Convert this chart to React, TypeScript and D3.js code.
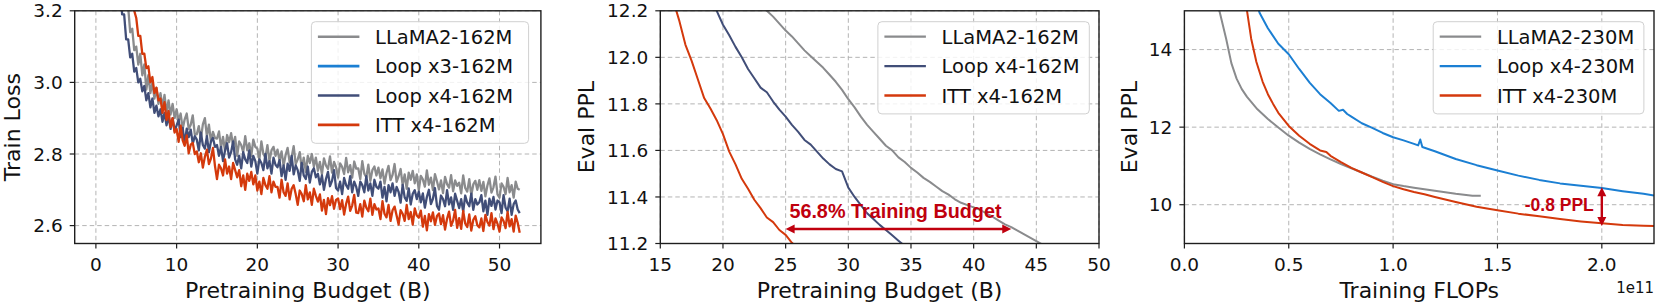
import React from "react";
import * as d3 from "d3";

const W = 1660;
const H = 307;
const TOP = 10.8;
const BOTTOM = 243.5;

const GRAY = "#8a8b8d";
const BLUE = "#1b7fd3";
const NAVY = "#414e78";
const RED = "#d4390c";
const MARK = "#c0000e";
const FONT = "'DejaVu Sans', Verdana, sans-serif";
const BOLD = "'Liberation Sans', Arial, sans-serif";

// ---- panel 1: train loss vs pretraining budget (B), sampled every 0.25B ----
const trainBudget = d3.range(2.5, 52.51, 0.25);
const trainLlama = [
  3.40, 3.36, 3.34, 3.28, 3.28, 3.21, 3.21, 3.14, 3.15, 3.09,
  3.10, 3.05, 3.08, 3.02, 3.05, 2.98, 3.02, 2.97, 3.00, 2.955,
  2.985, 2.94, 2.97, 2.93, 2.965, 2.915, 2.95, 2.91, 2.94, 2.90,
  2.925, 2.892, 2.913, 2.870, 2.897, 2.913, 2.870, 2.882, 2.908, 2.855,
  2.855, 2.878, 2.841, 2.883, 2.90, 2.849, 2.882, 2.835, 2.862, 2.845,
  2.843, 2.863, 2.818, 2.848, 2.808, 2.853, 2.833, 2.858, 2.823, 2.848,
  2.795, 2.835, 2.825, 2.805, 2.85, 2.81, 2.83, 2.795, 2.84, 2.82,
  2.815, 2.785, 2.835, 2.80, 2.79, 2.825, 2.78, 2.81, 2.82, 2.795,
  2.812, 2.782, 2.807, 2.767, 2.797, 2.817, 2.777, 2.792, 2.822, 2.772,
  2.785, 2.805, 2.76, 2.79, 2.75, 2.795, 2.775, 2.80, 2.765, 2.79,
  2.753, 2.778, 2.743, 2.788, 2.768, 2.758, 2.793, 2.748, 2.778, 2.763,
  2.734, 2.774, 2.764, 2.744, 2.789, 2.749, 2.769, 2.734, 2.779, 2.759,
  2.76, 2.73, 2.78, 2.745, 2.735, 2.77, 2.725, 2.755, 2.765, 2.74,
  2.762, 2.732, 2.757, 2.717, 2.747, 2.767, 2.727, 2.742, 2.772, 2.722,
  2.738, 2.758, 2.713, 2.743, 2.703, 2.748, 2.728, 2.753, 2.718, 2.743,
  2.699, 2.739, 2.729, 2.709, 2.754, 2.714, 2.734, 2.699, 2.744, 2.724,
  2.701, 2.726, 2.691, 2.736, 2.716, 2.706, 2.741, 2.696, 2.726, 2.711,
  2.72, 2.69, 2.74, 2.705, 2.695, 2.73, 2.685, 2.715, 2.725, 2.70,
  2.727, 2.697, 2.722, 2.682, 2.712, 2.732, 2.692, 2.707, 2.737, 2.687,
  2.678, 2.718, 2.708, 2.688, 2.733, 2.693, 2.713, 2.678, 2.723, 2.703,
  2.70,
];
const trainLoopX3: number[] = []; // not visible in the original figure
const trainLoopX4 = [
  3.36, 3.30, 3.27, 3.19, 3.19, 3.12, 3.12, 3.07, 3.08, 3.03,
  3.04, 3.00, 3.01, 2.975, 2.99, 2.95, 2.97, 2.93, 2.955, 2.915,
  2.935, 2.905, 2.925, 2.89, 2.915, 2.88, 2.905, 2.87, 2.90, 2.865,
  2.88, 2.896, 2.847, 2.873, 2.829, 2.871, 2.847, 2.868, 2.829, 2.85,
  2.84, 2.81, 2.86, 2.825, 2.815, 2.85, 2.805, 2.835, 2.845, 2.82,
  2.825, 2.795, 2.82, 2.78, 2.81, 2.83, 2.79, 2.805, 2.835, 2.785,
  2.77, 2.795, 2.76, 2.805, 2.785, 2.775, 2.81, 2.765, 2.795, 2.78,
  2.745, 2.785, 2.775, 2.755, 2.80, 2.76, 2.78, 2.745, 2.79, 2.77,
  2.763, 2.783, 2.738, 2.768, 2.728, 2.773, 2.753, 2.795, 2.743, 2.768,
  2.755, 2.725, 2.775, 2.74, 2.73, 2.765, 2.72, 2.75, 2.76, 2.735,
  2.745, 2.715, 2.74, 2.70, 2.73, 2.75, 2.71, 2.725, 2.755, 2.705,
  2.698, 2.723, 2.688, 2.733, 2.713, 2.703, 2.738, 2.693, 2.723, 2.708,
  2.683, 2.723, 2.713, 2.693, 2.738, 2.698, 2.718, 2.683, 2.728, 2.708,
  2.703, 2.723, 2.678, 2.708, 2.668, 2.713, 2.693, 2.718, 2.683, 2.708,
  2.694, 2.664, 2.714, 2.679, 2.669, 2.704, 2.659, 2.689, 2.699, 2.674,
  2.695, 2.665, 2.69, 2.65, 2.68, 2.70, 2.66, 2.675, 2.705, 2.655,
  2.644, 2.684, 2.674, 2.654, 2.699, 2.659, 2.679, 2.644, 2.689, 2.669,
  2.649, 2.674, 2.639, 2.684, 2.664, 2.654, 2.689, 2.644, 2.674, 2.659,
  2.665, 2.685, 2.64, 2.67, 2.63, 2.675, 2.655, 2.68, 2.645, 2.67,
  2.665, 2.635, 2.685, 2.65, 2.64, 2.675, 2.63, 2.66, 2.67, 2.645,
  2.635,
];
const trainItt = [
  3.60, 3.55, 3.50, 3.46, 3.42, 3.37, 3.33, 3.29, 3.25, 3.20,
  3.18, 3.13, 3.13, 3.08, 3.08, 3.04, 3.045, 3.00, 3.015, 2.97,
  2.985, 2.95, 2.955, 2.915, 2.945, 2.895, 2.92, 2.875, 2.90, 2.86,
  2.87, 2.834, 2.879, 2.838, 2.823, 2.852, 2.802, 2.826, 2.831, 2.80,
  2.807, 2.777, 2.802, 2.762, 2.792, 2.812, 2.772, 2.787, 2.817, 2.767,
  2.73, 2.77, 2.76, 2.74, 2.785, 2.745, 2.765, 2.73, 2.775, 2.755,
  2.735, 2.755, 2.71, 2.74, 2.70, 2.745, 2.725, 2.75, 2.715, 2.74,
  2.698, 2.723, 2.688, 2.733, 2.713, 2.703, 2.738, 2.693, 2.723, 2.708,
  2.708, 2.678, 2.728, 2.693, 2.683, 2.718, 2.673, 2.703, 2.713, 2.688,
  2.658, 2.698, 2.688, 2.668, 2.713, 2.673, 2.693, 2.658, 2.703, 2.683,
  2.667, 2.687, 2.642, 2.672, 2.632, 2.677, 2.657, 2.682, 2.647, 2.672,
  2.676, 2.646, 2.671, 2.631, 2.661, 2.681, 2.641, 2.656, 2.686, 2.636,
  2.635, 2.66, 2.625, 2.67, 2.65, 2.64, 2.675, 2.63, 2.66, 2.645,
  2.648, 2.618, 2.668, 2.633, 2.623, 2.658, 2.613, 2.643, 2.653, 2.628,
  2.603, 2.643, 2.633, 2.613, 2.658, 2.618, 2.638, 2.603, 2.648, 2.628,
  2.622, 2.642, 2.597, 2.627, 2.587, 2.632, 2.612, 2.637, 2.602, 2.627,
  2.634, 2.604, 2.629, 2.589, 2.619, 2.639, 2.599, 2.614, 2.644, 2.594,
  2.621, 2.591, 2.641, 2.606, 2.596, 2.631, 2.586, 2.616, 2.626, 2.601,
  2.595, 2.62, 2.585, 2.63, 2.61, 2.60, 2.635, 2.59, 2.62, 2.605,
  2.583, 2.623, 2.613, 2.593, 2.638, 2.598, 2.618, 2.583, 2.628, 2.608,
  2.58,
];
const trainTicksX = [0, 10, 20, 30, 40, 50];
const trainTicksY = [2.6, 2.8, 3.0, 3.2];

// ---- panel 2: eval PPL vs pretraining budget (B) ----
const evalBudgetItt = d3.range(16, 26.01, 0.5);
const evalItt = [
  12.25, 12.16, 12.055, 11.985, 11.905, 11.825, 11.78, 11.73, 11.67, 11.595,
  11.54, 11.478, 11.435, 11.388, 11.352, 11.312, 11.292, 11.258, 11.237, 11.203,
  11.18,
];
const evalBudgetLoop = d3.range(19, 34.51, 0.5);
const evalLoop = [
  12.27, 12.2, 12.14, 12.095, 12.045, 12.0, 11.95, 11.91, 11.87, 11.85,
  11.81, 11.775, 11.745, 11.71, 11.68, 11.645, 11.625, 11.595, 11.565, 11.54,
  11.52, 11.51, 11.44, 11.4, 11.365, 11.33, 11.305, 11.28, 11.258, 11.235,
  11.212, 11.19,
];
const evalBudgetLlama = d3.range(23, 45.51, 0.5);
const evalLlama = [
  12.25, 12.2, 12.175, 12.145, 12.115, 12.09, 12.06, 12.03, 12.005, 11.98,
  11.955, 11.925, 11.895, 11.86, 11.82, 11.785, 11.745, 11.71, 11.68, 11.65,
  11.62, 11.6, 11.57, 11.55, 11.525, 11.505, 11.482, 11.465, 11.445, 11.425,
  11.41, 11.39, 11.375, 11.365, 11.355, 11.345, 11.33, 11.315, 11.298, 11.282,
  11.27, 11.255, 11.24, 11.225, 11.21, 11.195,
];
const evalTicksX = [15, 20, 25, 30, 35, 40, 45, 50];
const evalTicksY = [11.2, 11.4, 11.6, 11.8, 12.0, 12.2];
const budgetArrow = { from: 25, to: 43, at: 11.262 };

// ---- panel 3: eval PPL vs training FLOPs (x 1e11) ----
const flopsLlama = [0.15, 0.17, 0.2, 0.225, 0.25, 0.275, 0.3, 0.35, 0.4, 0.45, 0.5, 0.55, 0.6, 0.65, 0.7, 0.75, 0.8, 0.85, 0.9, 0.95, 1.0, 1.05, 1.1, 1.15, 1.2, 1.25, 1.3, 1.35, 1.38, 1.42];
const pplLlama = [15.3, 14.95, 14.28, 13.65, 13.25, 12.98, 12.78, 12.46, 12.21, 11.99, 11.78, 11.6, 11.44, 11.3, 11.17, 11.05, 10.94, 10.83, 10.72, 10.62, 10.53, 10.48, 10.44, 10.4, 10.36, 10.32, 10.28, 10.25, 10.23, 10.23];
const flopsLoop = [0.34, 0.36, 0.4, 0.45, 0.5, 0.55, 0.6, 0.65, 0.7, 0.74, 0.76, 0.78, 0.8, 0.85, 0.9, 0.95, 1.0, 1.05, 1.1, 1.12, 1.13, 1.14, 1.2, 1.3, 1.4, 1.5, 1.6, 1.7, 1.8, 1.9, 2.0, 2.1, 2.2, 2.25];
const pplLoop = [15.3, 14.95, 14.55, 14.15, 13.88, 13.5, 13.15, 12.85, 12.62, 12.42, 12.45, 12.34, 12.27, 12.1, 11.98, 11.85, 11.74, 11.66, 11.57, 11.53, 11.68, 11.49, 11.38, 11.18, 11.02, 10.88, 10.75, 10.64, 10.55, 10.49, 10.43, 10.35, 10.28, 10.24];
const flopsItt = [0.29, 0.3, 0.32, 0.345, 0.375, 0.4, 0.425, 0.45, 0.5, 0.55, 0.6, 0.65, 0.68, 0.7, 0.75, 0.8, 0.85, 0.9, 0.95, 1.0, 1.05, 1.1, 1.15, 1.2, 1.3, 1.4, 1.5, 1.6, 1.7, 1.8, 1.9, 2.0, 2.1, 2.2, 2.25];
const pplItt = [15.3, 15.0, 14.28, 13.68, 13.17, 12.85, 12.6, 12.37, 12.03, 11.78, 11.57, 11.4, 11.36, 11.26, 11.1, 10.95, 10.83, 10.71, 10.59, 10.48, 10.4, 10.33, 10.27, 10.2, 10.07, 9.95, 9.86, 9.77, 9.7, 9.63, 9.57, 9.52, 9.48, 9.46, 9.45];
const flopsTicksX = [0, 0.5, 1.0, 1.5, 2.0];
const flopsTicksY = [10, 12, 14];
const pplArrow = { at: 2.0, from: 10.45, to: 9.45 };

type Line = { label: string; color: string; xs: number[]; ys: number[] };
type Scale = d3.ScaleLinear<number, number>;

type PanelDef = {
  id: string;
  left: number;
  right: number;
  xDomain: [number, number];
  yDomain: [number, number];
  xTicks: number[];
  yTicks: number[];
  xFormat: string;
  yFormat: string;
  xLabel: string;
  yLabel: string;
  yLabelX: number;
  strokeWidth: number;
  legendLeft: number;
  legendRight: number;
  lines: Line[];
  extra?: (x: Scale, y: Scale) => React.ReactNode;
};

function arrowHead(x: number, y: number, dx: number, dy: number) {
  // tip at (x,y), pointing along (dx,dy)
  const len = 9, half = 4.5;
  const bx = x - dx * len, by = y - dy * len;
  const px = -dy * half, py = dx * half;
  return `M${x},${y}L${bx + px},${by + py}L${bx - px},${by - py}Z`;
}

function DoubleArrow({ x1, y1, x2, y2 }: { x1: number; y1: number; x2: number; y2: number }) {
  const d = Math.hypot(x2 - x1, y2 - y1);
  const ux = (x2 - x1) / d, uy = (y2 - y1) / d;
  return (
    <g>
      <line x1={x1 + ux * 8} y1={y1 + uy * 8} x2={x2 - ux * 8} y2={y2 - uy * 8} stroke={MARK} strokeWidth={2.4} />
      <path d={arrowHead(x2, y2, ux, uy)} fill={MARK} />
      <path d={arrowHead(x1, y1, -ux, -uy)} fill={MARK} />
    </g>
  );
}

function Panel({ p }: { p: PanelDef }) {
  const x = d3.scaleLinear().domain(p.xDomain).range([p.left, p.right]);
  const y = d3.scaleLinear().domain(p.yDomain).range([BOTTOM, TOP]);
  const fx = d3.format(p.xFormat);
  const fy = d3.format(p.yFormat);
  const linePath = (l: Line) =>
    d3.line<number>().x((_, i) => x(l.xs[i])).y((v) => y(v))(l.ys) ?? "";
  const legendTop = 21.7;
  const rowH = 29.4;
  const legendH = p.lines.length * rowH + 4;
  const midY = (TOP + BOTTOM) / 2;
  return (
    <g>
      <defs>
        <clipPath id={`clip-${p.id}`}>
          <rect x={p.left} y={TOP} width={p.right - p.left} height={BOTTOM - TOP} />
        </clipPath>
      </defs>
      <g stroke="#b4b4b4" strokeWidth={1} strokeDasharray="4.5,3">
        {p.xTicks.map((t) => (
          <line key={`gx${t}`} x1={x(t)} x2={x(t)} y1={TOP} y2={BOTTOM} />
        ))}
        {p.yTicks.map((t) => (
          <line key={`gy${t}`} x1={p.left} x2={p.right} y1={y(t)} y2={y(t)} />
        ))}
      </g>
      <g clipPath={`url(#clip-${p.id})`}>
        {p.lines.map((l) => (
          <path key={l.label} d={linePath(l)} fill="none" stroke={l.color} strokeWidth={p.strokeWidth} strokeLinejoin="round" />
        ))}
        {p.extra ? p.extra(x, y) : null}
      </g>
      <rect x={p.left} y={TOP} width={p.right - p.left} height={BOTTOM - TOP} fill="none" stroke="#1e1e1e" strokeWidth={1.4} />
      <g stroke="#1e1e1e" strokeWidth={1.2}>
        {p.xTicks.map((t) => (
          <line key={`tx${t}`} x1={x(t)} x2={x(t)} y1={BOTTOM} y2={BOTTOM + 5} />
        ))}
        {p.yTicks.map((t) => (
          <line key={`ty${t}`} x1={p.left - 5} x2={p.left} y1={y(t)} y2={y(t)} />
        ))}
      </g>
      <g fontFamily={FONT} fontSize={18.5} fill="#111">
        {p.xTicks.map((t) => (
          <text key={`lx${t}`} x={x(t)} y={270.5} textAnchor="middle">{fx(t)}</text>
        ))}
        {p.yTicks.map((t) => (
          <text key={`ly${t}`} x={p.left - 12} y={y(t)} dy="0.36em" textAnchor="end">{fy(t)}</text>
        ))}
      </g>
      <text x={(p.left + p.right) / 2} y={297.5} textAnchor="middle" fontFamily={FONT} fontSize={22} fill="#111">
        {p.xLabel}
      </text>
      <text transform={`translate(${p.yLabelX},${midY}) rotate(-90)`} textAnchor="middle" fontFamily={FONT} fontSize={22} fill="#111">
        {p.yLabel}
      </text>
      <rect x={p.legendLeft} y={legendTop} width={p.legendRight - p.legendLeft} height={legendH} rx={4} fill="#fff" fillOpacity={0.82} stroke="#d0d0d0" strokeWidth={1} />
      {p.lines.map((l, i) => {
        const cy = legendTop + 15 + i * rowH;
        return (
          <g key={`lg${l.label}`}>
            <line x1={p.legendLeft + 6.5} x2={p.legendLeft + 48} y1={cy} y2={cy} stroke={l.color} strokeWidth={p.strokeWidth + 0.3} />
            <text x={p.legendLeft + 63.7} y={cy} dy="0.36em" fontFamily={FONT} fontSize={19.5} fill="#111">{l.label}</text>
          </g>
        );
      })}
    </g>
  );
}

const panels: PanelDef[] = [
  {
    id: "train",
    left: 74.7,
    right: 540.9,
    xDomain: [-2.625, 55.125],
    yDomain: [2.55, 3.2],
    xTicks: trainTicksX,
    yTicks: trainTicksY,
    xFormat: "d",
    yFormat: ".1f",
    xLabel: "Pretraining Budget (B)",
    yLabel: "Train Loss",
    yLabelX: 20,
    strokeWidth: 2.3,
    legendLeft: 311.4,
    legendRight: 528.6,
    lines: [
      { label: "LLaMA2-162M", color: GRAY, xs: trainBudget, ys: trainLlama },
      { label: "Loop x3-162M", color: BLUE, xs: trainBudget, ys: trainLoopX3 },
      { label: "Loop x4-162M", color: NAVY, xs: trainBudget, ys: trainLoopX4 },
      { label: "ITT x4-162M", color: RED, xs: trainBudget, ys: trainItt },
    ],
  },
  {
    id: "eval",
    left: 660.3,
    right: 1099,
    xDomain: [15, 50],
    yDomain: [11.2, 12.2],
    xTicks: evalTicksX,
    yTicks: evalTicksY,
    xFormat: "d",
    yFormat: ".1f",
    xLabel: "Pretraining Budget (B)",
    yLabel: "Eval PPL",
    yLabelX: 594,
    strokeWidth: 2,
    legendLeft: 877.9,
    legendRight: 1089.3,
    lines: [
      { label: "LLaMA2-162M", color: GRAY, xs: evalBudgetLlama, ys: evalLlama },
      { label: "Loop x4-162M", color: NAVY, xs: evalBudgetLoop, ys: evalLoop },
      { label: "ITT x4-162M", color: RED, xs: evalBudgetItt, ys: evalItt },
    ],
    extra: (x, y) => (
      <g>
        <text x={x((budgetArrow.from + budgetArrow.to) / 2) - 3} y={217.5} textAnchor="middle" fontFamily={BOLD} fontWeight="bold" fontSize={19.8} fill={MARK}>
          56.8% Training Budget
        </text>
        <DoubleArrow x1={x(budgetArrow.from)} y1={y(budgetArrow.at)} x2={x(budgetArrow.to)} y2={y(budgetArrow.at)} />
      </g>
    ),
  },
  {
    id: "flops",
    left: 1184.4,
    right: 1654,
    xDomain: [0, 2.25],
    yDomain: [9, 15],
    xTicks: flopsTicksX,
    yTicks: flopsTicksY,
    xFormat: ".1f",
    yFormat: "d",
    xLabel: "Training FLOPs",
    yLabel: "Eval PPL",
    yLabelX: 1137,
    strokeWidth: 2,
    legendLeft: 1433.2,
    legendRight: 1643.9,
    lines: [
      { label: "LLaMA2-230M", color: GRAY, xs: flopsLlama, ys: pplLlama },
      { label: "Loop x4-230M", color: BLUE, xs: flopsLoop, ys: pplLoop },
      { label: "ITT x4-230M", color: RED, xs: flopsItt, ys: pplItt },
    ],
    extra: (x, y) => (
      <g>
        <text x={x(pplArrow.at) - 8} y={210.5} textAnchor="end" fontFamily={BOLD} fontWeight="bold" fontSize={17.5} fill={MARK}>
          -0.8 PPL
        </text>
        <DoubleArrow x1={x(pplArrow.at)} y1={y(pplArrow.from)} x2={x(pplArrow.at)} y2={y(pplArrow.to)} />
      </g>
    ),
  },
];

export default function App() {
  return (
    <svg width={W} height={H} viewBox={`0 0 ${W} ${H}`} style={{ position: "absolute", left: 0, top: 0, background: "#fff" }}>
      {panels.map((p) => (
        <Panel key={p.id} p={p} />
      ))}
      <text x={1654} y={292.7} textAnchor="end" fontFamily={FONT} fontSize={15} fill="#111">1e11</text>
    </svg>
  );
}
